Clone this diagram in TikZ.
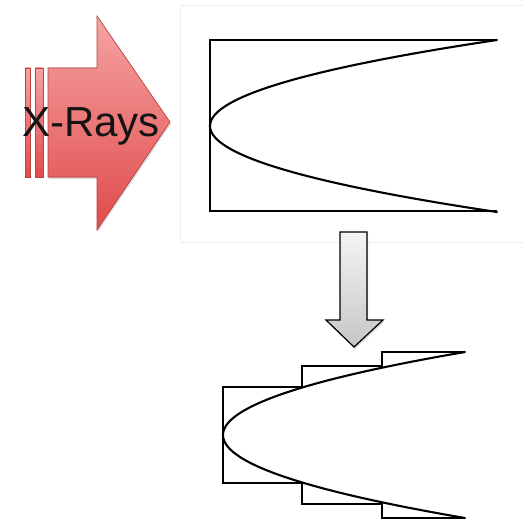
\documentclass[tikz,border=0pt]{standalone}
\usepackage{fontspec}
\setmainfont{Liberation Sans}
\usepackage{xcolor}
\usepackage{tikz}
\usetikzlibrary{calc,shadows}
\definecolor{raytop}{HTML}{F6A3A3}
\definecolor{raybot}{HTML}{E04B4B}
\definecolor{rayedge}{HTML}{C04040}
\definecolor{paneledge}{HTML}{EEEEEE}
\definecolor{downtop}{HTML}{F4F4F4}
\definecolor{downbot}{HTML}{C6C6C6}

\begin{document}
\begin{tikzpicture}[x=1pt, y=-1pt,
  raypart/.style={top color=raytop, bottom color=raybot, draw=rayedge, line width=0.6pt},
  curve/.style={line width=2.1pt, line cap=round},
  frame/.style={line width=1.4pt}]
  \useasboundingbox (0,0) rectangle (524,524);
  % x-ray arrow
  \fill[raypart] (25,68) rectangle (30,177);
  \fill[raypart] (35,68) rectangle (43,177);
  \fill[raypart, drop shadow={opacity=0.25, shadow xshift=1pt, shadow yshift=-2pt}]
    (48,68) -- (97,68) -- (97,16) -- (170,122) -- (97,230) -- (97,177) -- (48,177) -- cycle;
  \node[font=\fontsize{42}{42}\selectfont, text=black!92, inner sep=0pt, anchor=west] (xrays) at (22,126) {X-Rays};
  % top panel: rectangle and parabola
  \draw[paneledge, line width=0.8pt] (180,5) rectangle (530,242);
  \coordinate (tvert) at (210,126);
  \draw[frame] (497,40) -- (210,40) -- (210,211) -- (497,211);
  \draw[curve, domain=-86:86, samples=80, smooth] plot ({210+0.0388*\x*\x},{126+\x});
  % down arrow
  \draw[top color=downtop, bottom color=downbot, line width=1.2pt,
        drop shadow={opacity=0.3, shadow xshift=1pt, shadow yshift=-2pt}]
    (340,232) -- (367,232) -- (367,320) -- (383,320) -- (354,347) -- (326,320) -- (340,320) -- cycle;
  % bottom panel: steps and parabola
  \draw[frame] (465,352) -- (382,352) -- (382,366) -- (302,366) -- (302,387) -- (223,387)
    -- (223,483) -- (302,483) -- (302,504) -- (382,504) -- (382,518) -- (465,518);
  \draw[curve, domain=-83:83, samples=80, smooth] plot ({223+0.03513*\x*\x},{435+\x});
\end{tikzpicture}
\end{document}
